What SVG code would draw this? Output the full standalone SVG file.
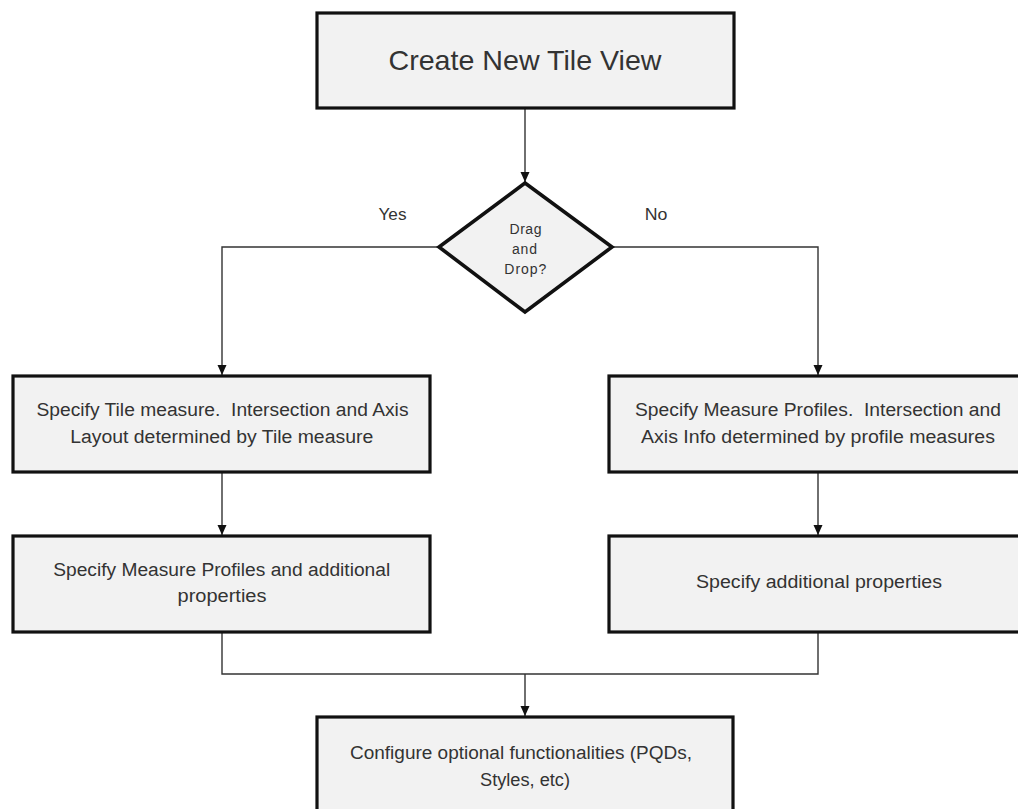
<svg xmlns="http://www.w3.org/2000/svg" width="1018" height="809" viewBox="0 0 1018 809">
<defs>
<marker id="arrow" viewBox="0 0 10 10" refX="10" refY="5" markerWidth="10" markerHeight="10" markerUnits="userSpaceOnUse" orient="auto">
<path d="M0,0.5 L10,5 L0,9.5 Z" fill="#111"/>
</marker>
</defs>
<style>
.box{fill:#f2f2f2;stroke:#111;stroke-width:3.2}
.dia{fill:#f2f2f2;stroke:#111;stroke-width:3.6}
.t{font-family:"Liberation Sans",Arial,sans-serif;fill:#333;text-anchor:middle;white-space:pre}
.b{font-size:18px}
.c{fill:none;stroke:#333;stroke-width:1.4}
</style>
<rect width="1018" height="809" fill="#fff"/>
<g id="connectors">
<path class="c" d="M525,108 V182" marker-end="url(#arrow)"/>
<path class="c" d="M439,247 H222 V375" marker-end="url(#arrow)"/>
<path class="c" d="M612,247 H818 V375" marker-end="url(#arrow)"/>
<path class="c" d="M222,472 V535" marker-end="url(#arrow)"/>
<path class="c" d="M818,472 V535" marker-end="url(#arrow)"/>
<path class="c" d="M222,632 V674 H818 V632"/>
<path class="c" d="M525,674 V716" marker-end="url(#arrow)"/>
<text class="t" x="392.5" y="220" font-size="16.5" textLength="28" lengthAdjust="spacingAndGlyphs">Yes</text>
<text class="t" x="656" y="220" font-size="16.5" textLength="22.7" lengthAdjust="spacingAndGlyphs">No</text>
</g>
<g id="start">
<rect class="box" x="317" y="13" width="417" height="95"/>
<text class="t" x="525" y="70" font-size="28" textLength="273" lengthAdjust="spacingAndGlyphs">Create New Tile View</text>
</g>
<g id="decision">
<polygon class="dia" points="525,183 612,247 525,312 439,247"/>
<text class="t" x="525.5" y="233.5" font-size="14" textLength="32" lengthAdjust="spacing">Drag</text>
<text class="t" x="524.5" y="253.5" font-size="14" textLength="25" lengthAdjust="spacing">and</text>
<text class="t" x="525.3" y="273.5" font-size="14" textLength="42" lengthAdjust="spacing">Drop?</text>
</g>
<g id="yes1">
<rect class="box" x="13" y="376" width="417" height="96"/>
<text class="t b" x="222.5" y="416" textLength="372" lengthAdjust="spacingAndGlyphs">Specify Tile measure.  Intersection and Axis</text>
<text class="t b" x="221.7" y="443" textLength="303" lengthAdjust="spacingAndGlyphs">Layout determined by Tile measure</text>
</g>
<g id="yes2">
<rect class="box" x="13" y="536" width="417" height="96"/>
<text class="t b" x="221.7" y="576" textLength="337" lengthAdjust="spacingAndGlyphs">Specify Measure Profiles and additional</text>
<text class="t b" x="222" y="602" textLength="89" lengthAdjust="spacingAndGlyphs">properties</text>
</g>
<g id="no1">
<rect class="box" x="609" y="376" width="418" height="96"/>
<text class="t b" x="818" y="416" textLength="366" lengthAdjust="spacingAndGlyphs">Specify Measure Profiles.  Intersection and</text>
<text class="t b" x="818" y="443" textLength="354" lengthAdjust="spacingAndGlyphs">Axis Info determined by profile measures</text>
</g>
<g id="no2">
<rect class="box" x="609" y="536" width="418" height="96"/>
<text class="t b" x="819" y="588" textLength="246" lengthAdjust="spacingAndGlyphs">Specify additional properties</text>
</g>
<g id="end">
<rect class="box" x="317" y="717" width="416" height="110"/>
<text class="t b" x="521" y="759" textLength="342" lengthAdjust="spacingAndGlyphs">Configure optional functionalities (PQDs,</text>
<text class="t b" x="525" y="786" textLength="90" lengthAdjust="spacingAndGlyphs">Styles, etc)</text>
</g>
</svg>
